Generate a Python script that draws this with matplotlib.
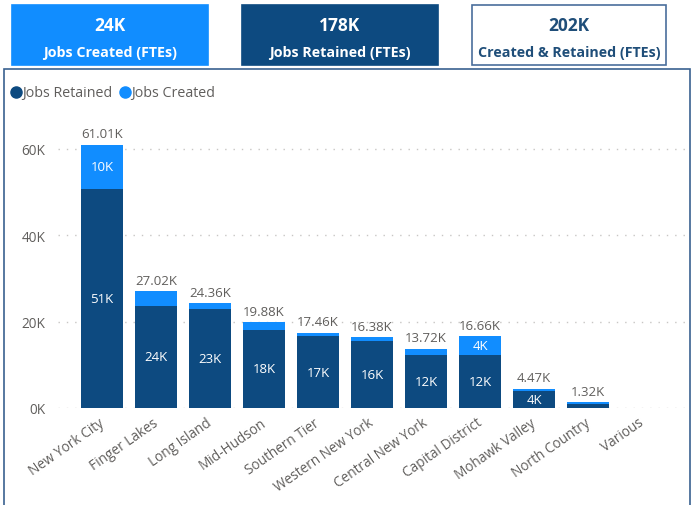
import numpy as np
import matplotlib.pyplot as plt
import matplotlib.transforms as mtransforms
from matplotlib.patches import Rectangle
from matplotlib.lines import Line2D

plt.rcParams['font.family'] = ['Open Sans', 'DejaVu Sans']

# Data (thousands of FTEs)
regions = ["New York City", "Finger Lakes", "Long Island", "Mid-Hudson", "Southern Tier",
           "Western New York", "Central New York", "Capital District", "Mohawk Valley",
           "North Country", "Various"]
retained = [50.7, 23.7, 22.9, 18.07, 16.6, 15.6, 12.3, 12.3, 4.0, 0.93, 0.0]
created = [10.31, 3.32, 1.46, 1.81, 0.86, 0.78, 1.42, 4.36, 0.47, 0.39, 0.0]
total_labels = ["61.01K", "27.02K", "24.36K", "19.88K", "17.46K", "16.38K", "13.72K",
                "16.66K", "4.47K", "1.32K", ""]
yticks = [0, 20, 40, 60]

cards = [("24K", "Jobs Created (FTEs)"), ("178K", "Jobs Retained (FTEs)"),
         ("202K", "Created & Retained (FTEs)")]

DARK = "#0D4A80"
LIGHT = "#118DFF"
GREY = "#605E5C"

W, H = 694, 506
fig = plt.figure(figsize=(W / 100, H / 100), dpi=100)

def fx(px):
    return px / W

def fy(py):
    return 1 - py / H

# KPI cards
card_boxes = [(12, 6, 196, 60, LIGHT, "white", LIGHT),
              (242, 6, 196, 60, DARK, "white", DARK),
              (472, 6, 194, 60, "white", "#1F4E79", "#4A6E9C")]
for (x, y, w, h, fc, tc, ec), (big, small) in zip(card_boxes, cards):
    fig.patches.append(Rectangle((fx(x), fy(y + h)), w / W, h / H, transform=fig.transFigure,
                                 facecolor=fc, edgecolor=ec, linewidth=1.2, zorder=-2))
    fig.text(fx(x + w / 2), fy(y + 20), big, color=tc, fontsize=12.5, fontweight="bold",
             ha="center", va="center")
    fig.text(fx(x + w / 2), fy(y + 47), small, color=tc, fontsize=10.3, fontweight="bold",
             ha="center", va="center")

# Chart panel border
fig.patches.append(Rectangle((fx(4), fy(520)), 686 / W, 450 / H, transform=fig.transFigure,
                             facecolor="none", edgecolor="#3A6190", linewidth=1.2, zorder=-1))

# Legend
for mx, col in [(16, DARK), (125, LIGHT)]:
    fig.lines.append(Line2D([fx(mx)], [fy(93)], marker="o", markersize=8, color=col,
                            linestyle="none", transform=fig.transFigure))
fig.text(fx(22), fy(93), "Jobs Retained", color=GREY, fontsize=10.3, ha="left", va="center")
fig.text(fx(131), fy(93), "Jobs Created", color=GREY, fontsize=10.3, ha="left", va="center")

ax = fig.add_axes([fx(58), fy(409), (687 - 58) / W, (409 - 128.4) / H])
ax.patch.set_alpha(0)
x = np.arange(len(regions))
retained = np.array(retained)
created = np.array(created)
ax.bar(x, retained, width=0.78, color=DARK, zorder=2)
ax.bar(x, created, width=0.78, bottom=retained, color=LIGHT, zorder=2)

for i in range(len(regions)):
    if total_labels[i]:
        ax.text(x[i], retained[i] + created[i] + 1.0, total_labels[i], ha="center",
                va="bottom", color=GREY, fontsize=9.5)
    if retained[i] >= 3.8:
        ax.text(x[i], retained[i] / 2, f"{retained[i]:.0f}K", ha="center", va="center",
                color="white", fontsize=9.5)
    if created[i] >= 3.8:
        ax.text(x[i], retained[i] + created[i] / 2, f"{created[i]:.0f}K", ha="center",
                va="center", color="white", fontsize=9.5)

ax.set_xlim(-0.815, 10.83)
ax.set_ylim(0, 65)
ax.set_yticks(yticks)
ax.set_yticklabels([f"{v}K" for v in yticks])
ax.set_xticks(x)
ax.set_xticklabels(regions, rotation=35, ha="right", rotation_mode="anchor")
ax.tick_params(axis="both", length=0, colors=GREY, labelsize=9.8)
ax.tick_params(axis="y", pad=9)
ax.tick_params(axis="x", pad=5)
shift = mtransforms.ScaledTranslation(-4 / 100, 0, fig.dpi_scale_trans)
for lbl in ax.get_xticklabels():
    lbl.set_transform(lbl.get_transform() + shift)
ax.grid(axis="y", linestyle=(0, (1, 5)), color="#C8C6C4", linewidth=1, zorder=0)
for s in ax.spines.values():
    s.set_visible(False)

fig.savefig("out.png", dpi=100)
